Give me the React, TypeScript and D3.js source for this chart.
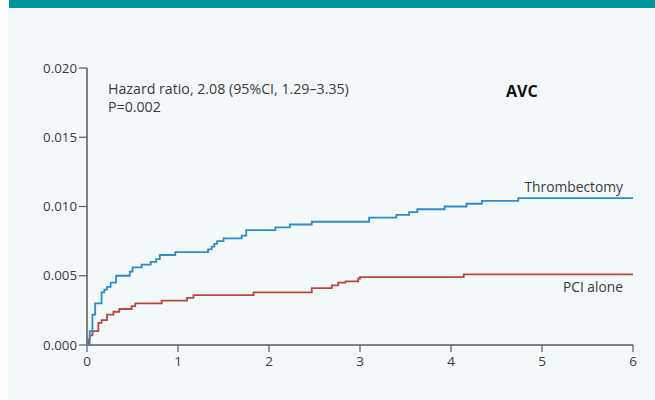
import React from "react";
import * as d3 from "d3";

const thrombTimes = [0, 0.03, 0.06, 0.09, 0.16, 0.19, 0.22, 0.26, 0.32, 0.47, 0.5, 0.6, 0.7, 0.76, 0.8, 0.97, 1.33, 1.37, 1.4, 1.43, 1.5, 1.7, 1.75, 2.07, 2.23, 2.47, 3.1, 3.4, 3.54, 3.63, 3.93, 4.17, 4.34, 4.74, 6];
const thrombValues = [0, 0.001, 0.0022, 0.003, 0.0038, 0.004, 0.0042, 0.0045, 0.005, 0.0053, 0.0056, 0.0058, 0.006, 0.0062, 0.0065, 0.0067, 0.0069, 0.0071, 0.0073, 0.0075, 0.0077, 0.0079, 0.0083, 0.0085, 0.0087, 0.0089, 0.0092, 0.0094, 0.0096, 0.0098, 0.01, 0.0102, 0.0104, 0.0106, 0.0106];

const pciTimes = [0, 0.015, 0.03, 0.06, 0.125, 0.16, 0.22, 0.29, 0.355, 0.49, 0.53, 0.82, 1.1, 1.17, 1.83, 2.47, 2.69, 2.76, 2.84, 2.98, 3.0, 4.14, 6];
const pciValues = [0, 0.0004, 0.0007, 0.001, 0.0016, 0.0018, 0.0022, 0.0024, 0.0026, 0.0028, 0.003, 0.0032, 0.0034, 0.0036, 0.0038, 0.0041, 0.0043, 0.0045, 0.0046, 0.0048, 0.0049, 0.0051, 0.0051];

const xTicks = [0, 1, 2, 3, 4, 5, 6];
const yTicks = [0, 0.005, 0.01, 0.015, 0.02];

const seriesNames = ["Thrombectomy", "PCI alone"];
const annotationLines = ["Hazard ratio, 2.08 (95%CI, 1.29–3.35)", "P=0.002"];
const panelTitle = "AVC";

export default function App() {
  const x = d3.scaleLinear().domain([0, 6]).range([87, 633]);
  const y = d3.scaleLinear().domain([0, 0.02]).range([345, 68]);
  const line = d3
    .line<[number, number]>()
    .x((d) => x(d[0]))
    .y((d) => y(d[1]))
    .curve(d3.curveStepAfter);
  const thromb = thrombTimes.map((t, i) => [t, thrombValues[i]] as [number, number]);
  const pci = pciTimes.map((t, i) => [t, pciValues[i]] as [number, number]);
  const font = "'Open Sans', 'Liberation Sans', sans-serif";
  const textColor = "#3a3a3a";
  const axisColor = "#5a5a5a";
  const fmt = d3.format(".3f");

  return (
    <svg
      width={655}
      height={400}
      style={{ position: "absolute", left: 0, top: 0 }}
      fontFamily={font}
    >
      <rect x={0} y={0} width={655} height={400} fill="#ffffff" />
      <rect x={8} y={8} width={647} height={392} fill="#f3f9fa" />
      <rect x={9} y={0} width={646} height={8} fill="#00939c" />

      {/* y axis */}
      <line x1={x(0)} x2={x(0)} y1={y(0.02)} y2={y(0)} stroke={axisColor} strokeWidth={1.5} />
      {yTicks.map((v) => (
        <g key={v}>
          <line x1={x(0) - 8} x2={x(0)} y1={y(v)} y2={y(v)} stroke={axisColor} strokeWidth={1.2} />
          <text x={x(0) - 10} y={y(v) + 4.5} textAnchor="end" fontSize={13.3} fill={textColor}>
            {fmt(v)}
          </text>
        </g>
      ))}

      {/* x axis */}
      <line x1={x(0)} x2={x(6)} y1={y(0)} y2={y(0)} stroke={axisColor} strokeWidth={1.5} />
      {xTicks.map((t) => (
        <g key={t}>
          <line x1={x(t)} x2={x(t)} y1={y(0)} y2={y(0) + 7} stroke={axisColor} strokeWidth={1.2} />
          <text x={x(t)} y={y(0) + 21} textAnchor="middle" fontSize={13.5} fill={textColor}>
            {t}
          </text>
        </g>
      ))}

      <path d={line(pci) ?? ""} fill="none" stroke="#c0443a" strokeWidth={1.8} />
      <path d={line(thromb) ?? ""} fill="none" stroke="#2f8cc6" strokeWidth={1.8} />

      <text x={108} y={94} fontSize={14.2} fill={textColor}>
        {annotationLines[0]}
      </text>
      <text x={108} y={112} fontSize={14.2} fill={textColor}>
        {annotationLines[1]}
      </text>

      <text x={506} y={97} fontSize={16} fontWeight="bold" fill="#111">
        {panelTitle}
      </text>

      <text x={623} y={192} textAnchor="end" fontSize={13.8} fill={textColor}>
        {seriesNames[0]}
      </text>
      <text x={623} y={292} textAnchor="end" fontSize={13.8} fill={textColor}>
        {seriesNames[1]}
      </text>
    </svg>
  );
}
